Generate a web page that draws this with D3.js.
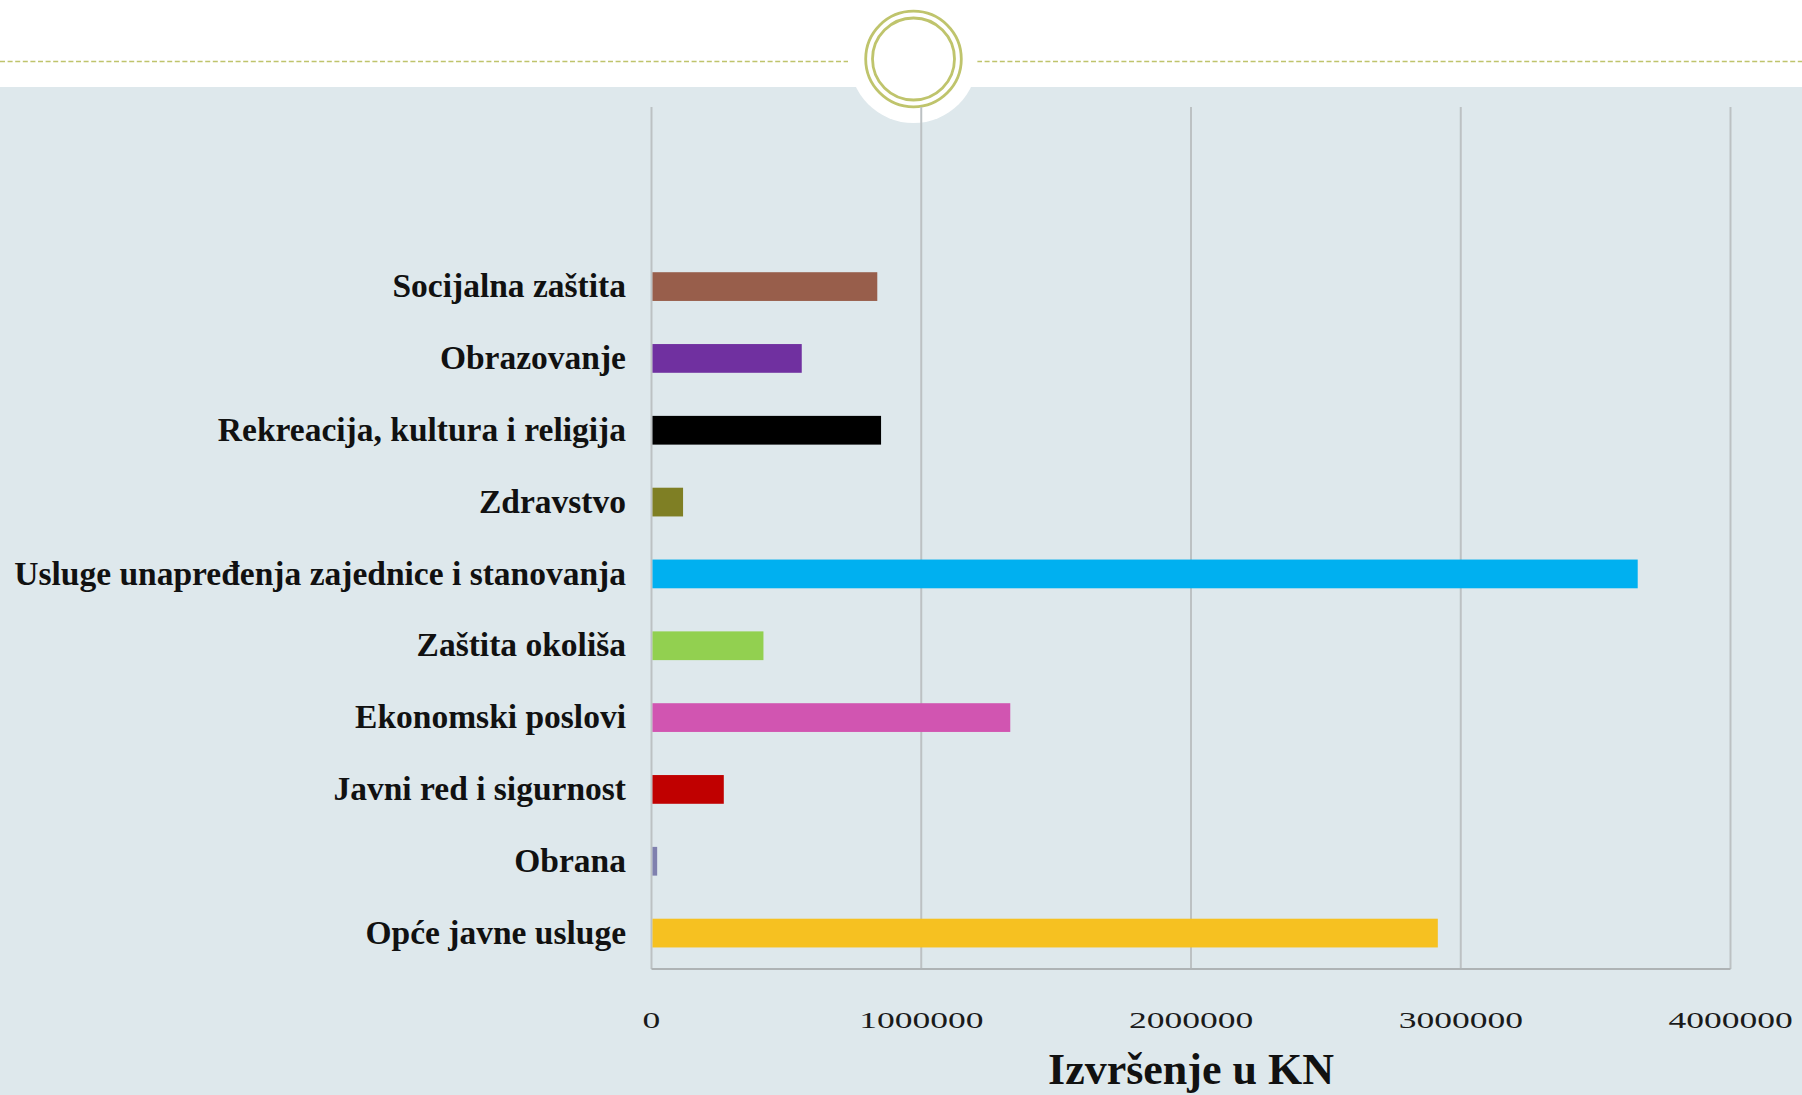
<!DOCTYPE html>
<html>
<head>
<meta charset="utf-8">
<script src="https://cdn.jsdelivr.net/npm/d3@7"></script>
<style>
  html, body { margin: 0; padding: 0; background: #ffffff; }
  svg { display: block; }
</style>
</head>
<body>
<svg id="chart" width="1802" height="1095"></svg>
<script>
// ---- data ----
const categories = [
  "Socijalna zaštita",
  "Obrazovanje",
  "Rekreacija, kultura i religija",
  "Zdravstvo",
  "Usluge unapređenja zajednice i stanovanja",
  "Zaštita okoliša",
  "Ekonomski poslovi",
  "Javni red i sigurnost",
  "Obrana",
  "Opće javne usluge"
];
const values = [837000, 557000, 851000, 117000, 3656000, 415000, 1330000, 268000, 21000, 2915000];
const barColors = ["#985E4B", "#7030A0", "#000000", "#7F7F24", "#00B0F0", "#92D050", "#D155B1", "#C00000", "#7F80AE", "#F6C121"];
const tickValues = [0, 1000000, 2000000, 3000000, 4000000];
const tickLabels = ["0", "1000000", "2000000", "3000000", "4000000"];
const axisTitle = "Izvršenje u KN";

// ---- layout ----
const W = 1802, H = 1095;
const svg = d3.select("#chart");
const plotLeft = 651.5, plotRight = 1730.5, plotTop = 107, plotBottom = 969;
const slots = 12; // two empty slots above the bars
const step = (plotBottom - plotTop) / slots;

// header
svg.append("rect").attr("x", 0).attr("y", 0).attr("width", W).attr("height", H).attr("fill", "#ffffff");
svg.append("rect").attr("x", 0).attr("y", 87).attr("width", W).attr("height", H - 87).attr("fill", "#DEE8EC");
const olive = "#BFC46C";
svg.append("line").attr("x1", 0).attr("x2", 848).attr("y1", 61.5).attr("y2", 61.5)
  .attr("stroke", olive).attr("stroke-width", 1.5).attr("stroke-dasharray", "5,2.6");
svg.append("line").attr("x1", 977).attr("x2", W).attr("y1", 61.5).attr("y2", 61.5)
  .attr("stroke", olive).attr("stroke-width", 1.5).attr("stroke-dasharray", "5,2.6");
const cx = 913.5, cy = 59;
svg.append("circle").attr("cx", cx).attr("cy", cy).attr("r", 64).attr("fill", "#ffffff");
svg.append("circle").attr("cx", cx).attr("cy", cy).attr("r", 47.8).attr("fill", "none").attr("stroke", olive).attr("stroke-width", 2.8);
svg.append("circle").attr("cx", cx).attr("cy", cy).attr("r", 41).attr("fill", "none").attr("stroke", olive).attr("stroke-width", 2.8);

// scales
const x = d3.scaleLinear().domain([0, 4000000]).range([plotLeft, plotRight]);
const y = d3.scaleBand().domain(categories)
  .range([plotBottom - categories.length * step, plotBottom])
  .paddingInner(0.6).paddingOuter(0.3);

// gridlines
const gridColor = "#BCC1C3";
svg.append("g").selectAll("line").data(tickValues).join("line")
  .attr("x1", d => x(d)).attr("x2", d => x(d))
  .attr("y1", plotTop).attr("y2", plotBottom)
  .attr("stroke", gridColor).attr("stroke-width", 2);

// bars
svg.append("g").selectAll("rect").data(categories).join("rect")
  .attr("x", x(0) + 1)
  .attr("y", d => y(d))
  .attr("width", (d, i) => Math.max(0, x(values[i]) - x(0) - 1))
  .attr("height", y.bandwidth())
  .attr("fill", (d, i) => barColors[i]);

// bottom axis line
svg.append("line").attr("x1", x(0)).attr("x2", x(4000000)).attr("y1", plotBottom).attr("y2", plotBottom)
  .attr("stroke", "#AEB3B5").attr("stroke-width", 2);

// x axis tick labels
const xAxis = d3.axisBottom(x).tickValues(tickValues).tickSize(0).tickPadding(0)
  .tickFormat((d, i) => tickLabels[i]);
const gx = svg.append("g").attr("transform", `translate(0, ${plotBottom})`).call(xAxis);
gx.select(".domain").remove();
gx.selectAll("text")
  .attr("y", 59).attr("dy", 0)
  .attr("transform", "scale(1.48,1)")
  .attr("font-family", "'Liberation Serif', 'DejaVu Serif', serif")
  .attr("font-size", 24).attr("fill", "#1a1a1a").attr("text-anchor", "middle");
gx.selectAll(".tick").each(function(d) {
  d3.select(this).attr("transform", `translate(${x(d)},0)`);
});

// y axis category labels
const yAxis = d3.axisLeft(y).tickSize(0).tickPadding(0);
const gy = svg.append("g").attr("transform", `translate(626, 0)`).call(yAxis);
gy.select(".domain").remove();
gy.selectAll("text")
  .attr("x", 0).attr("dy", "0.32em")
  .attr("font-family", "'Liberation Serif', 'DejaVu Serif', serif")
  .attr("font-weight", "bold").attr("font-size", 33.5).attr("fill", "#111111")
  .attr("text-anchor", "end");

// axis title
svg.append("text").attr("x", (plotLeft + plotRight) / 2).attr("y", 1084)
  .attr("text-anchor", "middle")
  .attr("font-family", "'Liberation Serif', 'DejaVu Serif', serif")
  .attr("font-weight", "bold").attr("font-size", 44).attr("fill", "#111111")
  .text(axisTitle);
</script>
</body>
</html>
